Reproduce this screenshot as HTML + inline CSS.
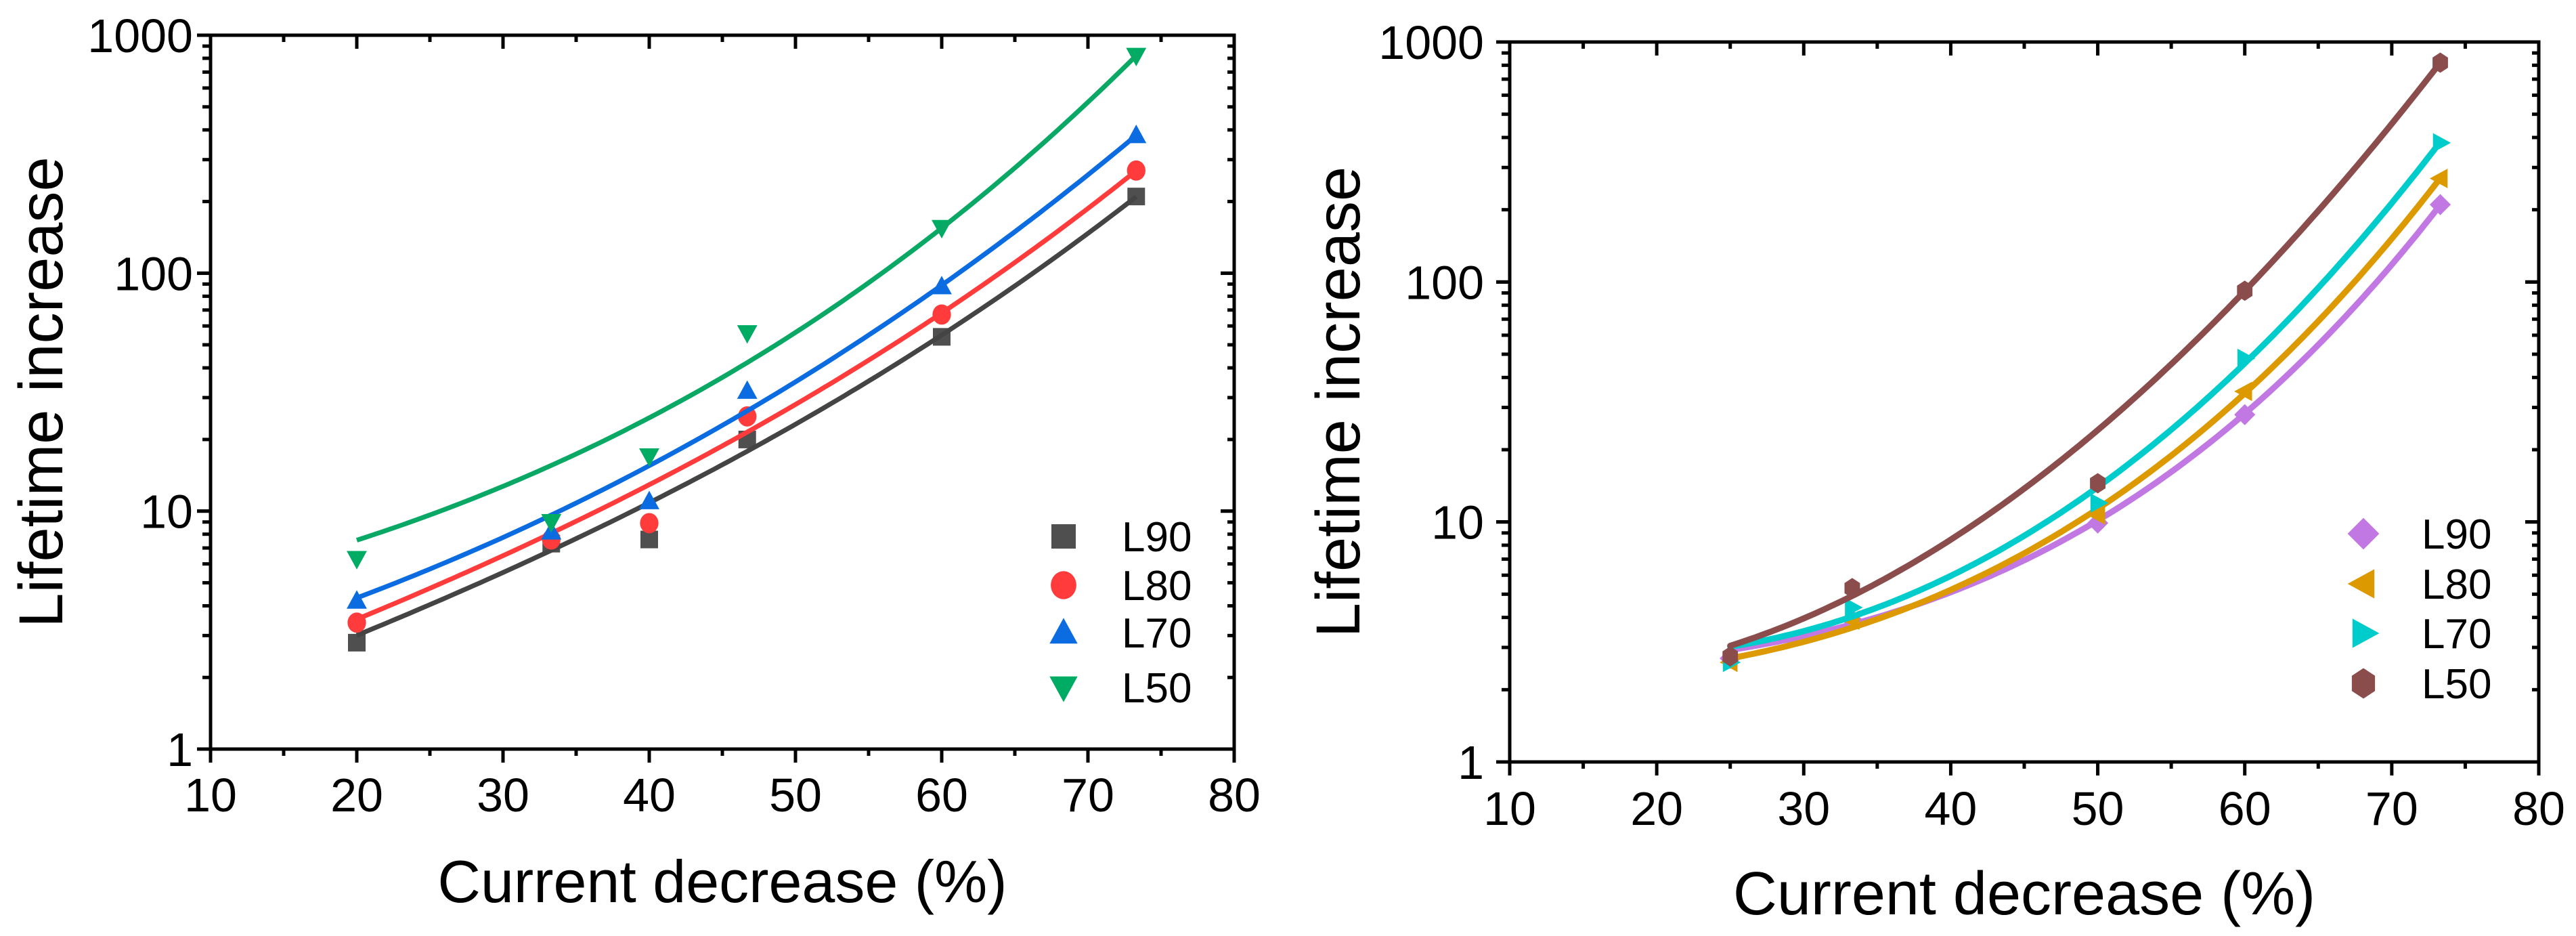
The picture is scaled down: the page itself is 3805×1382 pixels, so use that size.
<!DOCTYPE html>
<html><head><meta charset="utf-8">
<style>
html,body{margin:0;padding:0;background:#fff;}
svg{display:block;font-family:"Liberation Sans",Arial,sans-serif;}
</style></head>
<body>
<svg id="chart" width="3805" height="1382" viewBox="0 0 3805 1382" xmlns="http://www.w3.org/2000/svg"></svg>
<script>
// ---------- data ----------
const xTicks = [10,20,30,40,50,60,70,80];
const yTicks = [1,10,100,1000];
const seriesNames = ["L90","L80","L70","L50"];

// Left chart
const leftX = [20,33.3,40,46.7,60,73.3];
const leftL90 = [2.8,7.3,7.6,20,54,210];
const leftL80 = [3.4,7.6,8.9,25,67,270];
const leftL70 = [4.2,8.2,11,32,88,380];
const leftL50 = [6.3,9.0,17,56,155,820];
const leftFitX = [20,30,40,50,60,73.3];
const leftFitL90 = [3.0,5.6,10.5,24,54,210];
const leftFitL80 = [3.5,6.6,12.5,29,67,270];
const leftFitL70 = [4.3,7.9,15,36,88,380];
const leftFitL50 = [7.5,13,24,57,155,820];

// Right chart
const rightX = [25,33.3,50,60,73.3];
const rightL90 = [2.7,3.9,9.9,28,210];
const rightL80 = [2.6,3.9,10.7,35,270];
const rightL70 = [2.6,4.4,12,48,380];
const rightL50 = [2.75,5.3,14.5,92,820];
const rightFitX = [25,33.3,40,50,60,73.3];
const rightFitL90 = [2.95,3.65,5.2,10.2,28,210];
const rightFitL80 = [2.7,3.6,5.35,11,35,270];
const rightFitL70 = [3.0,4.05,6.2,13,48,380];
const rightFitL50 = [3.05,4.9,8.5,24,92,820];

const NS="http://www.w3.org/2000/svg";
const svg=document.getElementById('chart');
function mk(tag,attrs,parent){const e=document.createElementNS(NS,tag);for(const k in attrs)e.setAttribute(k,attrs[k]);(parent||svg).appendChild(e);return e;}

function makeAxes(cfg){
  const {x0,x1,y0,y1}=cfg;
  const sx=v=>x0+(v-10)/70*(x1-x0);
  const sy=v=>y0-Math.log10(v)/3*(y0-y1);
  const g=mk('g',{});
  
  
  const fr=mk('rect',{x:x0,y:y1,width:x1-x0,height:y0-y1,fill:'none',stroke:'#000','stroke-width':5},g);
  
  
  for(let v=10;v<=80;v+=5){
    const major=v%10===0;const X=sx(v);
    mk('line',{x1:X,x2:X,y1:y0,y2:y0+(major?20:10),stroke:'#000','stroke-width':5},g);
    mk('line',{x1:X,x2:X,y1:y1,y2:y1+(major?20:10),stroke:'#000','stroke-width':5},g);
  }
  xTicks.forEach(v=>{
    const t=mk('text',{x:sx(v),y:cfg.xlabY,'text-anchor':'middle','font-size':70},g);
    t.textContent=String(v);
    
    
  });
  for(let d=0;d<3;d++){for(let m=1;m<=10;m++){
    const v=m*Math.pow(10,d);const Y=sy(v);const major=(m===1||m===10);
    mk('line',{x1:x0,x2:x0-(major?20:12),y1:Y,y2:Y,stroke:'#000','stroke-width':5},g);
    mk('line',{x1:x1,x2:x1-(major?20:10),y1:Y,y2:Y,stroke:'#000','stroke-width':5},g);
  }}
  yTicks.forEach(v=>{
    const t=mk('text',{x:cfg.ylabX,y:sy(v)+25,'text-anchor':'end','font-size':70},g);
    t.textContent=String(v);
    
    
  });
  const yt=mk('text',{x:0,y:0,'text-anchor':'middle','font-size':92,transform:`translate(${cfg.ytX},${(y0+y1)/2}) rotate(-90)`},g);
  yt.textContent='Lifetime increase';
  
  
  const xt=mk('text',{x:(x0+x1)/2,y:cfg.xtY,'text-anchor':'middle','font-size':cfg.xtSize},g);
  xt.textContent='Current decrease (%)';
  
  
  return {sx,sy};
}

// least-squares cubic polynomial in log space -> smooth fit curve
function polyFit(xs,ys,deg){
  const n=deg+1;const A=[];const b=[];
  for(let i=0;i<n;i++){A.push(new Array(n).fill(0));b.push(0);}
  xs.forEach((x,k)=>{const u=(x-45)/30;const y=Math.log10(ys[k]);
    for(let i=0;i<n;i++){b[i]+=Math.pow(u,i)*y;for(let j=0;j<n;j++)A[i][j]+=Math.pow(u,i+j);}});
  for(let i=0;i<n;i++){let p=i;for(let r=i+1;r<n;r++)if(Math.abs(A[r][i])>Math.abs(A[p][i]))p=r;
    [A[i],A[p]]=[A[p],A[i]];[b[i],b[p]]=[b[p],b[i]];
    for(let r=i+1;r<n;r++){const f=A[r][i]/A[i][i];for(let c=i;c<n;c++)A[r][c]-=f*A[i][c];b[r]-=f*b[i];}}
  const c=new Array(n).fill(0);
  for(let i=n-1;i>=0;i--){let s=b[i];for(let j=i+1;j<n;j++)s-=A[i][j]*c[j];c[i]=s/A[i][i];}
  return x=>{const u=(x-45)/30;let s=0;for(let i=0;i<n;i++)s+=c[i]*Math.pow(u,i);return s;};
}
function curvePath(xs,ys,sx,sy){
  const f=polyFit(xs,ys,3);
  const a=xs[0],bb=xs[xs.length-1];let d='';
  for(let s=0;s<=120;s++){const x=a+(bb-a)*s/120;
    d+=(d?'L':'M')+sx(x).toFixed(1)+','+sy(Math.pow(10,f(x))).toFixed(1);}
  return d;
}

function marker(shape,cx,cy,r,color,parent){
  let e;
  if(shape==='square')e=mk('rect',{x:cx-r,y:cy-r,width:2*r,height:2*r,fill:color},parent);
  else if(shape==='circle')e=mk('ellipse',{cx:cx,cy:cy,rx:r*1.05,ry:r*1.15,fill:color},parent);
  else if(shape==='up')e=mk('polygon',{points:`${cx},${cy-r*1.2} ${cx+r*1.15},${cy+r*0.9} ${cx-r*1.15},${cy+r*0.9}`,fill:color},parent);
  else if(shape==='down')e=mk('polygon',{points:`${cx},${cy+r*1.2} ${cx+r*1.15},${cy-r*0.9} ${cx-r*1.15},${cy-r*0.9}`,fill:color},parent);
  else if(shape==='diamond')e=mk('polygon',{points:`${cx},${cy-r*1.3} ${cx+r*1.3},${cy} ${cx},${cy+r*1.3} ${cx-r*1.3},${cy}`,fill:color},parent);
  else if(shape==='left')e=mk('polygon',{points:`${cx-r*1.3},${cy} ${cx+r*0.9},${cy-r*1.2} ${cx+r*0.9},${cy+r*1.2}`,fill:color},parent);
  else if(shape==='right')e=mk('polygon',{points:`${cx+r*1.3},${cy} ${cx-r*0.9},${cy-r*1.2} ${cx-r*0.9},${cy+r*1.2}`,fill:color},parent);
  else if(shape==='hex'){let p=[];for(let k=0;k<6;k++){const a=Math.PI/2+k*Math.PI/3;p.push((cx+r*1.1*Math.cos(a)).toFixed(1)+','+(cy+r*1.25*Math.sin(a)).toFixed(1));}e=mk('polygon',{points:p.join(' '),fill:color},parent);}
  return e;
}

// ---------- left chart ----------
(function(){
  const {sx,sy}=makeAxes({name:'left',x0:311,x1:1823,y0:1106,y1:52,xlabY:1198,ylabX:285,ytX:92,xtY:1332,xtSize:88});
  const pts=[leftL90,leftL80,leftL70,leftL50];
  const fits=[leftFitL90,leftFitL80,leftFitL70,leftFitL50];
  const mcol=['#4f4f4f','#ff3b3b','#0a6ce0','#00ac64'];
  const lcol=['#444444','#ff3b3b','#0a6ce0','#0aa865'];
  const shapes=['square','circle','up','down'];
  for(let s=0;s<4;s++){
    const g=mk('g',{});
    
    
    leftX.forEach((x,i)=>{
      const m=marker(shapes[s],sx(x),sy(pts[s][i]),13,mcol[s],g);
      
      
    });
    const p=mk('path',{d:curvePath(leftFitX,fits[s],sx,sy),fill:'none',stroke:lcol[s],'stroke-width':7,'stroke-linejoin':'round'},g);
    
    
  }
  const ys=[792,864,934,1015];
  for(let s=0;s<4;s++){
    const g=mk('g',{});
    
    
    marker(shapes[s],1571,ys[s],18,mcol[s],g);
    const t=mk('text',{x:1657,y:ys[s]+22,'font-size':62},g);
    t.textContent=seriesNames[s];
  }
})();

// ---------- right chart ----------
(function(){
  const {sx,sy}=makeAxes({name:'right',x0:2230,x1:3750,y0:1125,y1:62,xlabY:1218,ylabX:2192,ytX:2008,xtY:1350,xtSize:90});
  const pts=[rightL90,rightL80,rightL70,rightL50];
  const fits=[rightFitL90,rightFitL80,rightFitL70,rightFitL50];
  const col=['#c178e2','#dd9a00','#00cccc','#8b4c4c'];
  const shapes=['diamond','left','right','hex'];
  for(let s=0;s<4;s++){
    const g=mk('g',{});
    
    
    rightX.forEach((x,i)=>{
      const m=marker(shapes[s],sx(x),sy(pts[s][i]),12,col[s],g);
      
      
    });
    const p=mk('path',{d:curvePath(rightFitX,fits[s],sx,sy),fill:'none',stroke:col[s],'stroke-width':9,'stroke-linejoin':'round','stroke-linecap':'round'},g);
    
    
  }
  const ys=[788,862,935,1009];
  for(let s=0;s<4;s++){
    const g=mk('g',{});
    
    
    marker(shapes[s],3491,ys[s],18,col[s],g);
    const t=mk('text',{x:3577,y:ys[s]+22,'font-size':62},g);
    t.textContent=seriesNames[s];
  }
})();
</script>
</body></html>
